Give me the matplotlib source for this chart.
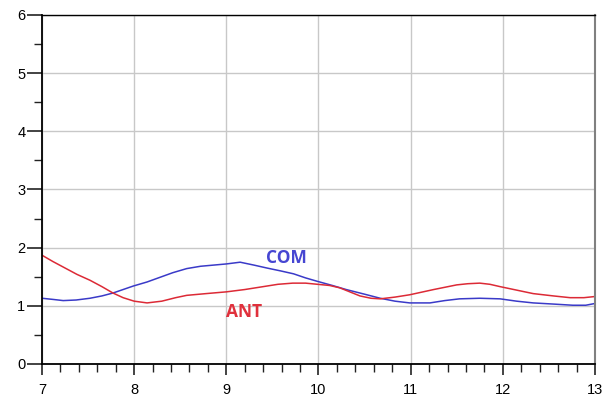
import matplotlib
matplotlib.use('Agg')
import matplotlib.pyplot as plt
from matplotlib.ticker import MultipleLocator

# Values
com_x = [7.0, 7.12, 7.23, 7.37, 7.52, 7.65, 7.77, 7.88, 7.99, 8.14, 8.28, 8.42,
         8.57, 8.72, 8.86, 9.0, 9.15, 9.3, 9.44, 9.59, 9.73, 9.86, 9.99, 10.15,
         10.3, 10.5, 10.67, 10.83, 10.99, 11.21, 11.37, 11.53, 11.75, 11.97,
         12.15, 12.33, 12.55, 12.76, 12.9, 13.0]
com_y = [1.13, 1.11, 1.09, 1.10, 1.13, 1.17, 1.22, 1.28, 1.34, 1.41, 1.49, 1.57,
         1.64, 1.68, 1.70, 1.72, 1.75, 1.70, 1.65, 1.60, 1.55, 1.48, 1.42, 1.35,
         1.28, 1.20, 1.13, 1.08, 1.05, 1.05, 1.09, 1.12, 1.13, 1.12,
         1.08, 1.05, 1.03, 1.01, 1.01, 1.04]

ant_x = [7.0, 7.12, 7.25, 7.38, 7.52, 7.65, 7.77, 7.88, 8.0, 8.14, 8.3, 8.45,
         8.57, 8.78, 9.0, 9.2, 9.4, 9.56, 9.72, 9.86, 9.99, 10.12, 10.23, 10.34,
         10.45, 10.57, 10.67, 10.83, 10.99, 11.25, 11.50, 11.62, 11.75, 11.86,
         11.97, 12.15, 12.33, 12.55, 12.73, 12.88, 13.0]
ant_y = [1.87, 1.76, 1.65, 1.54, 1.44, 1.33, 1.22, 1.14, 1.08, 1.05, 1.08, 1.14,
         1.18, 1.21, 1.24, 1.28, 1.33, 1.37, 1.39, 1.39, 1.37, 1.35, 1.31, 1.24,
         1.17, 1.13, 1.12, 1.15, 1.19, 1.28, 1.36, 1.38, 1.39, 1.37,
         1.33, 1.27, 1.21, 1.17, 1.14, 1.14, 1.16]

x_ticks = [7, 8, 9, 10, 11, 12, 13]
y_ticks = [0, 1, 2, 3, 4, 5, 6]

blue = '#3a3ac8'
red = '#dc2a36'

fig = plt.figure(figsize=(6.14, 4.01), dpi=100)
ax = fig.add_axes([0.0684, 0.0923, 0.9006, 0.8703])

ax.plot(com_x, com_y, color=blue, lw=1.1)
ax.plot(ant_x, ant_y, color=red, lw=1.1)

ax.text(9.65, 1.82, 'COM', color='#4646d2', fontsize=12.5, fontweight='bold',
        family='Open Sans', ha='center', va='center')
ax.text(9.19, 0.89, 'ANT', color='#e0303c', fontsize=12.5, fontweight='bold',
        family='Open Sans', ha='center', va='center')

ax.set_xlim(7, 13)
ax.set_ylim(0, 6)
ax.set_xticks(x_ticks)
ax.set_yticks(y_ticks)
ax.xaxis.set_minor_locator(MultipleLocator(0.2))
ax.yaxis.set_minor_locator(MultipleLocator(0.5))

ax.grid(True, which='major', color='#c8c8c8', lw=1.0)
ax.set_axisbelow(True)

for lbl in ax.get_xticklabels() + ax.get_yticklabels():
    lbl.set_family('Liberation Sans')
    lbl.set_fontsize(10.5)

ax.tick_params(which='major', length=8, width=1.2, color='#222222', pad=4)
ax.tick_params(which='minor', length=5.5, width=1.0, color='#222222')
ax.tick_params(axis='x', which='major', length=8, pad=6)
ax.tick_params(axis='y', which='major', length=11, pad=1)
ax.tick_params(axis='y', which='minor', length=6)

ax.spines['left'].set_linewidth(1.3)
ax.spines['bottom'].set_linewidth(1.3)
ax.spines['top'].set_linewidth(1.0)
ax.spines['right'].set_color('#808080')
ax.spines['right'].set_linewidth(1.5)

fig.savefig('out.png', dpi=100)
